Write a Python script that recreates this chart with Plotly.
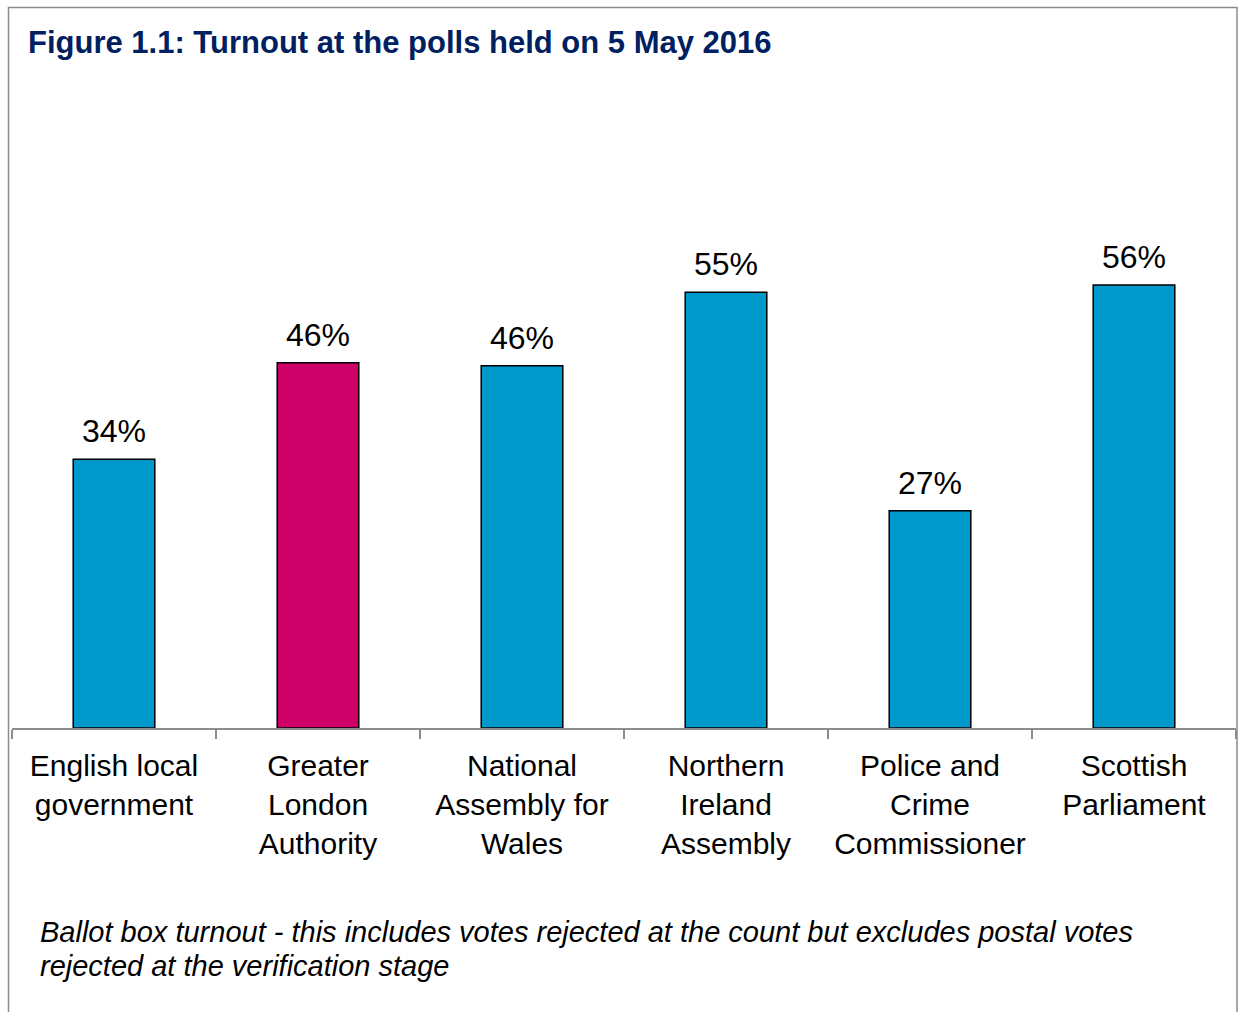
import plotly.graph_objects as go

categories = ["English local<br>government", "Greater<br>London<br>Authority",
              "National<br>Assembly for<br>Wales", "Northern<br>Ireland<br>Assembly",
              "Police and<br>Crime<br>Commissioner", "Scottish<br>Parliament"]
turnout = [33.9, 46.1, 45.7, 55.0, 27.4, 55.9]
labels = ["34%", "46%", "46%", "55%", "27%", "56%"]
bar_colors = ["#0099CC", "#CC0066", "#0099CC", "#0099CC", "#0099CC", "#0099CC"]
footnote_lines = ["Ballot box turnout - this includes votes rejected at the count but excludes postal votes",
                  "rejected at the verification stage"]

FONT = "Liberation Sans, Arial, sans-serif"
W, H = 1243, 1012
L, R, T, B = 12, 7, 94, 284
pw, ph = W - L - R, H - T - B

def px_x(x):
    return (x - L) / pw

def px_y(y):
    return (H - B - y) / ph

fig = go.Figure()
fig.add_trace(go.Bar(
    x=categories, y=turnout,
    marker=dict(color=bar_colors, line=dict(color="#000000", width=1.5)),
    width=0.4, hoverinfo="skip",
))

for c, v, t in zip(categories, turnout, labels):
    fig.add_annotation(x=c, y=v, text=t, showarrow=False, yanchor="bottom",
                       yshift=8, font=dict(size=32, color="#000000", family=FONT))

for i, line in enumerate(footnote_lines):
    fig.add_annotation(xref="paper", yref="paper", x=px_x(38), y=px_y(932 + 34 * i),
                       xanchor="left", yanchor="middle", align="left", showarrow=False,
                       text="<i>" + line + "</i>",
                       font=dict(size=29, color="#000000", family=FONT))

fig.add_shape(type="rect", xref="paper", yref="paper",
              x0=px_x(8.5), x1=px_x(1237), y0=px_y(1030), y1=px_y(7.5),
              line=dict(color="#8C8C8C", width=1.5), layer="below")

fig.update_layout(
    width=W, height=H,
    margin=dict(l=L, r=R, t=T, b=B, pad=0),
    paper_bgcolor="#FFFFFF", plot_bgcolor="#FFFFFF",
    showlegend=False,
    title=dict(text="<b>Figure 1.1: Turnout at the polls held on 5 May 2016</b>",
               x=28 / W, xanchor="left", xref="container",
               y=1 - 42 / H, yanchor="middle", yref="container",
               font=dict(size=31, color="#002060", family=FONT)),
    xaxis=dict(showline=True, linecolor="#8C8C8C", linewidth=1.5,
               ticks="outside", tickson="boundaries", ticklen=9, tickcolor="#8C8C8C",
               tickwidth=1.5, showgrid=False, ticklabelstandoff=10,
               tickfont=dict(size=30, color="#000000", family=FONT)),
    yaxis=dict(range=[0, 80], visible=False, showgrid=False, zeroline=False),
    font=dict(family=FONT),
)

fig.write_html("out.html")
